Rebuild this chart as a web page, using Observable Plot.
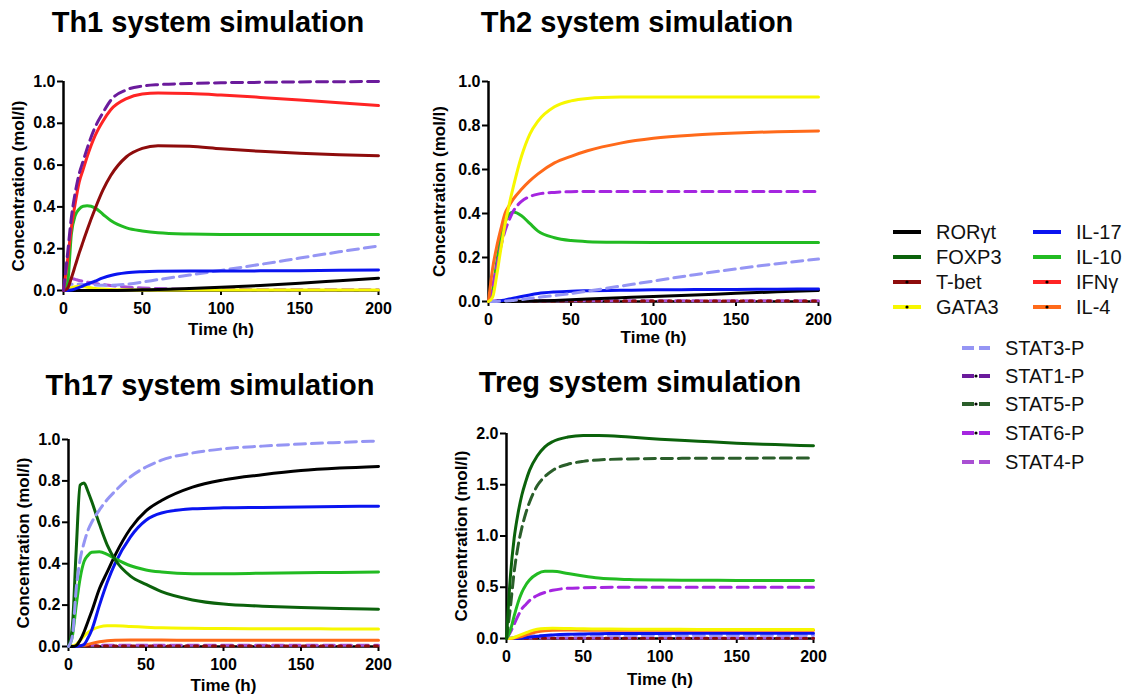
<!DOCTYPE html>
<html><head><meta charset="utf-8">
<script src="https://cdn.jsdelivr.net/npm/d3@7"></script>
<script src="https://cdn.jsdelivr.net/npm/@observablehq/plot@0.6"></script>
<style>
body{margin:0;background:#fff;font-family:"Liberation Sans",Arial,sans-serif}
#root{position:relative;width:1136px;height:696px;overflow:hidden;background:#fff}
.panel{position:absolute}
.title{position:absolute;font-weight:bold;font-size:29px;line-height:29px;text-align:center;white-space:nowrap;color:#000}
.leg{position:absolute;height:20px;display:flex;align-items:center;white-space:nowrap}
.leg span{font-size:20px;line-height:20px;color:#111;margin-left:15px}
</style></head><body><div id="root"></div>
<script>
// ---------------- data ----------------
const times = [0, 2.5, 5, 7.5, 10, 12.5, 15, 20, 25, 30, 40, 50, 60, 80, 100, 125, 150, 175, 200];
const xTicks = [0, 50, 100, 150, 200];
const yTicks1 = [0, 0.2, 0.4, 0.6, 0.8, 1.0];
const yTicksTreg = [0, 0.5, 1.0, 1.5, 2.0];
const titles = ["Th1 system simulation", "Th2 system simulation", "Th17 system simulation", "Treg system simulation"];
const yLabel = "Concentration (mol/l)";
const xLabel = "Time (h)";

// Th1
const th1_STAT1P = [0, 0.17, 0.35, 0.47, 0.56, 0.62, 0.68, 0.78, 0.85, 0.91, 0.96, 0.978, 0.985, 0.99, 0.994, 0.996, 0.998, 0.999, 1.0];
const th1_IFNg   = [0, 0.14, 0.3, 0.42, 0.52, 0.58, 0.64, 0.74, 0.81, 0.865, 0.918, 0.94, 0.945, 0.942, 0.935, 0.924, 0.912, 0.898, 0.885];
const th1_Tbet   = [0, 0.01, 0.06, 0.12, 0.18, 0.235, 0.29, 0.39, 0.48, 0.55, 0.64, 0.68, 0.693, 0.69, 0.678, 0.666, 0.657, 0.65, 0.645];
const th1_IL10   = [0, 0.03, 0.27, 0.36, 0.39, 0.403, 0.405, 0.395, 0.365, 0.335, 0.3, 0.285, 0.276, 0.27, 0.268, 0.268, 0.268, 0.268, 0.268];
const th1_IL17   = [0, 0, 0.002, 0.008, 0.015, 0.022, 0.03, 0.045, 0.06, 0.072, 0.085, 0.09, 0.092, 0.093, 0.093, 0.094, 0.095, 0.097, 0.098];
const th1_RORgt  = [0, 0, 0, 0, 0, 0, 0, 0, 0, 0, 0.001, 0.003, 0.005, 0.009, 0.015, 0.024, 0.035, 0.047, 0.059];
const th1_GATA3  = [0, 0.005, 0.013, 0.018, 0.02, 0.018, 0.016, 0.01, 0.007, 0.005, 0.003, 0.002, 0.002, 0.002, 0.002, 0.002, 0.002, 0.002, 0.002];
const th1_STAT3P = [0, 0.02, 0.03, 0.03, 0.03, 0.029, 0.028, 0.026, 0.025, 0.025, 0.03, 0.04, 0.052, 0.074, 0.096, 0.125, 0.155, 0.185, 0.213];
const th1_STAT4P = [0, 0.06, 0.058, 0.053, 0.048, 0.044, 0.04, 0.034, 0.028, 0.024, 0.017, 0.012, 0.009, 0.006, 0.005, 0.004, 0.004, 0.004, 0.004];

// Th2
const th2_GATA3  = [0, 0.02, 0.12, 0.24, 0.35, 0.44, 0.52, 0.66, 0.76, 0.82, 0.885, 0.912, 0.923, 0.929, 0.93, 0.93, 0.93, 0.93, 0.93];
const th2_IL4    = [0, 0.15, 0.25, 0.33, 0.4, 0.435, 0.465, 0.51, 0.548, 0.58, 0.63, 0.66, 0.685, 0.72, 0.742, 0.757, 0.766, 0.772, 0.775];
const th2_STAT6P = [0, 0.07, 0.16, 0.25, 0.32, 0.37, 0.41, 0.455, 0.477, 0.488, 0.496, 0.499, 0.5, 0.5, 0.5, 0.5, 0.5, 0.5, 0.5];
const th2_IL10   = [0, 0.05, 0.18, 0.29, 0.36, 0.395, 0.407, 0.39, 0.355, 0.32, 0.29, 0.277, 0.272, 0.269, 0.268, 0.268, 0.268, 0.268, 0.268];
const th2_STAT3P = [0, 0, 0, 0.001, 0.002, 0.003, 0.005, 0.009, 0.014, 0.019, 0.027, 0.036, 0.047, 0.07, 0.093, 0.122, 0.148, 0.172, 0.193];
const th2_IL17   = [0, 0, 0.001, 0.003, 0.007, 0.011, 0.015, 0.023, 0.03, 0.036, 0.043, 0.047, 0.049, 0.051, 0.053, 0.054, 0.055, 0.056, 0.057];
const th2_RORgt  = [0, 0, 0, 0, 0, 0, 0, 0.001, 0.002, 0.003, 0.005, 0.008, 0.011, 0.017, 0.023, 0.03, 0.037, 0.044, 0.05];
const th2_STAT4P = [0, 0.002, 0.003, 0.003, 0.003, 0.003, 0.003, 0.003, 0.003, 0.003, 0.003, 0.003, 0.003, 0.003, 0.003, 0.003, 0.003, 0.003, 0.003];
const th2_Tbet   = [0, 0.001, 0.002, 0.002, 0.002, 0.002, 0.002, 0.002, 0.002, 0.002, 0.002, 0.002, 0.002, 0.002, 0.002, 0.002, 0.002, 0.002, 0.002];

// Th17
const th17_STAT3P = [0, 0.05, 0.28, 0.42, 0.5, 0.56, 0.6, 0.66, 0.71, 0.75, 0.82, 0.867, 0.9, 0.935, 0.955, 0.968, 0.978, 0.986, 0.993];
const th17_FOXP3  = [0, 0.1, 0.47, 0.78, 0.79, 0.75, 0.7, 0.59, 0.49, 0.42, 0.34, 0.3, 0.265, 0.225, 0.205, 0.195, 0.188, 0.183, 0.18];
const th17_IL10   = [0, 0.05, 0.2, 0.33, 0.41, 0.44, 0.455, 0.458, 0.445, 0.425, 0.39, 0.37, 0.36, 0.352, 0.352, 0.354, 0.356, 0.358, 0.36];
const th17_RORgt  = [0, 0, 0.005, 0.03, 0.07, 0.12, 0.17, 0.28, 0.36, 0.44, 0.57, 0.655, 0.705, 0.77, 0.805, 0.83, 0.85, 0.862, 0.87];
const th17_IL17   = [0, 0, 0, 0.003, 0.01, 0.04, 0.08, 0.2, 0.31, 0.4, 0.53, 0.61, 0.645, 0.665, 0.67, 0.672, 0.674, 0.676, 0.678];
const th17_GATA3  = [0, 0.002, 0.01, 0.03, 0.05, 0.067, 0.08, 0.095, 0.1, 0.1, 0.097, 0.093, 0.09, 0.088, 0.087, 0.086, 0.086, 0.085, 0.085];
const th17_IL4    = [0, 0, 0.001, 0.003, 0.006, 0.01, 0.015, 0.023, 0.028, 0.03, 0.031, 0.031, 0.031, 0.03, 0.03, 0.03, 0.03, 0.03, 0.03];
const th17_STAT4P = [0, 0.002, 0.004, 0.005, 0.006, 0.006, 0.006, 0.006, 0.006, 0.006, 0.006, 0.006, 0.006, 0.006, 0.006, 0.006, 0.006, 0.006, 0.006];
const th17_Tbet   = [0, 0.001, 0.002, 0.002, 0.002, 0.002, 0.002, 0.002, 0.002, 0.002, 0.002, 0.002, 0.002, 0.002, 0.002, 0.002, 0.002, 0.002, 0.002];

// Treg
const treg_FOXP3  = [0, 0.6, 0.98, 1.22, 1.4, 1.53, 1.64, 1.78, 1.87, 1.92, 1.965, 1.98, 1.98, 1.965, 1.945, 1.925, 1.905, 1.892, 1.88];
const treg_STAT5P = [0, 0.3, 0.65, 0.9, 1.08, 1.22, 1.33, 1.49, 1.58, 1.64, 1.7, 1.728, 1.742, 1.752, 1.756, 1.758, 1.759, 1.76, 1.76];
const treg_IL10   = [0, 0.08, 0.22, 0.35, 0.45, 0.52, 0.57, 0.63, 0.655, 0.655, 0.635, 0.61, 0.59, 0.575, 0.57, 0.568, 0.567, 0.566, 0.565];
const treg_STAT6P = [0, 0.06, 0.14, 0.22, 0.29, 0.33, 0.37, 0.42, 0.45, 0.47, 0.49, 0.495, 0.498, 0.5, 0.5, 0.5, 0.5, 0.5, 0.5];
const treg_GATA3  = [0, 0.002, 0.01, 0.025, 0.04, 0.055, 0.07, 0.09, 0.098, 0.1, 0.098, 0.095, 0.093, 0.091, 0.09, 0.089, 0.088, 0.088, 0.088];
const treg_IL4    = [0, 0, 0.005, 0.012, 0.02, 0.033, 0.045, 0.065, 0.075, 0.08, 0.082, 0.081, 0.08, 0.08, 0.08, 0.08, 0.08, 0.08, 0.08];
const treg_IL17   = [0, 0, 0, 0.001, 0.005, 0.01, 0.014, 0.022, 0.03, 0.035, 0.042, 0.045, 0.047, 0.049, 0.05, 0.051, 0.051, 0.052, 0.052];
const treg_STAT3P = [0, 0.005, 0.01, 0.015, 0.02, 0.022, 0.025, 0.028, 0.03, 0.031, 0.032, 0.032, 0.032, 0.032, 0.032, 0.032, 0.032, 0.032, 0.032];
const treg_STAT4P = [0, 0.003, 0.005, 0.006, 0.006, 0.006, 0.006, 0.006, 0.006, 0.006, 0.006, 0.006, 0.006, 0.006, 0.006, 0.006, 0.006, 0.006, 0.006];
const treg_Tbet   = [0, 0.001, 0.002, 0.002, 0.002, 0.002, 0.002, 0.002, 0.002, 0.002, 0.002, 0.002, 0.002, 0.002, 0.002, 0.002, 0.002, 0.002, 0.002];

// legend
const legendLeft  = ["RORγt", "FOXP3", "T-bet", "GATA3"];
const legendRight = ["IL-17", "IL-10", "IFNγ", "IL-4"];
const legendStat  = ["STAT3-P", "STAT1-P", "STAT5-P", "STAT6-P", "STAT4-P"];

// ---------------- styles ----------------
const styles = {
  "RORγt":   {color: "#000000", dashed: false, dot: false},
  "FOXP3":   {color: "#0b620b", dashed: false, dot: false},
  "T-bet":   {color: "#8e0c0c", dashed: false, dot: true},
  "GATA3":   {color: "#f7f700", dashed: false, dot: true},
  "IL-17":   {color: "#0a14f0", dashed: false, dot: false},
  "IL-10":   {color: "#22bb22", dashed: false, dot: false},
  "IFNγ":    {color: "#ff2424", dashed: false, dot: true},
  "IL-4":    {color: "#ff6a1a", dashed: false, dot: true},
  "STAT3-P": {color: "#9595f4", dashed: true, dot: false},
  "STAT1-P": {color: "#6b1b9c", dashed: true, dot: true},
  "STAT5-P": {color: "#2a5e2a", dashed: true, dot: true},
  "STAT6-P": {color: "#a526e0", dashed: true, dot: true},
  "STAT4-P": {color: "#a94fd3", dashed: true, dot: false}
};

const panels = [
  {title: titles[0], tx: 208, ty: 8, left: 0, top: 60, width: 395, height: 290, mt: 21, mr: 17, mb: 60, ml: 63, ydom: [0, 1], yticks: yTicks1, ydx: -45, xdy: 39,
   series: [["STAT4-P", th1_STAT4P], ["STAT3-P", th1_STAT3P], ["GATA3", th1_GATA3], ["RORγt", th1_RORgt], ["IL-17", th1_IL17], ["IL-10", th1_IL10], ["T-bet", th1_Tbet], ["IFNγ", th1_IFNg], ["STAT1-P", th1_STAT1P]]},
  {title: titles[1], tx: 637, ty: 8, left: 420, top: 60, width: 420, height: 300, mt: 21, mr: 22, mb: 59, ml: 68, ydom: [0, 1], yticks: yTicks1, ydx: -49, xdy: 36,
   series: [["STAT4-P", th2_STAT4P], ["T-bet", th2_Tbet, "dots"], ["RORγt", th2_RORgt], ["IL-17", th2_IL17], ["STAT3-P", th2_STAT3P], ["IL-10", th2_IL10], ["STAT6-P", th2_STAT6P], ["IL-4", th2_IL4], ["GATA3", th2_GATA3]]},
  {title: titles[2], tx: 210, ty: 371, left: 0, top: 400, width: 395, height: 296, mt: 39, mr: 17, mb: 50, ml: 68, ydom: [0, 1], yticks: yTicks1, ydx: -45, xdy: 39,
   series: [["STAT4-P", th17_STAT4P], ["T-bet", th17_Tbet, "dots"], ["IL-4", th17_IL4], ["GATA3", th17_GATA3], ["IL-17", th17_IL17], ["RORγt", th17_RORgt], ["IL-10", th17_IL10], ["FOXP3", th17_FOXP3], ["STAT3-P", th17_STAT3P]]},
  {title: titles[3], tx: 640, ty: 368, left: 420, top: 400, width: 420, height: 296, mt: 33, mr: 27, mb: 58, ml: 86, ydom: [0, 2], yticks: yTicksTreg, ydx: -45, xdy: 41,
   series: [["STAT4-P", treg_STAT4P], ["T-bet", treg_Tbet, "dots"], ["STAT3-P", treg_STAT3P], ["IL-17", treg_IL17], ["IL-4", treg_IL4], ["GATA3", treg_GATA3], ["STAT6-P", treg_STAT6P], ["IL-10", treg_IL10], ["STAT5-P", treg_STAT5P], ["FOXP3", treg_FOXP3]]}
];

const root = document.getElementById("root");
const FONT = "'Liberation Sans', Arial, sans-serif";

for (const p of panels) {
  const t = document.createElement("div");
  t.className = "title";
  t.style.left = (p.tx - 220) + "px";
  t.style.width = "440px";
  t.style.top = p.ty + "px";
  t.textContent = p.title;
  root.appendChild(t);

  const lineMarks = p.series.map(([name, values, mode]) => {
    const st = styles[name];
    const rows = values.map((v, i) => ({t: times[i], v, name}));
    return Plot.line(rows, {
      x: "t", y: "v",
      stroke: st.color,
      strokeWidth: 3,
      strokeDasharray: mode === "dots" ? "3,6" : (st.dashed ? "11,6" : null),
      curve: "monotone-x"
    });
  });

  const plot = Plot.plot({
    width: p.width, height: p.height,
    marginTop: p.mt, marginRight: p.mr, marginBottom: p.mb, marginLeft: p.ml,
    x: {domain: [0, 200]},
    y: {domain: p.ydom},
    style: {fontFamily: FONT, fontSize: "16px", fontWeight: "bold", color: "#000", background: "transparent", overflow: "visible"},
    marks: [
      Plot.axisX({ticks: xTicks, tickSize: 5, tickPadding: 7, strokeWidth: 2, label: null, fontSize: 16, tickFormat: d3.format("d")}),
      Plot.axisY({ticks: p.yticks, tickSize: 6, tickPadding: 2, strokeWidth: 2, label: null, fontSize: 16, tickFormat: d3.format(".1f")}),
      Plot.ruleX([0], {stroke: "#000", strokeWidth: 2.5}),
      Plot.ruleY([0], {stroke: "#000", strokeWidth: 2.5}),
      ...lineMarks,
      Plot.text([yLabel], {text: d => d, frameAnchor: "left", dx: p.ydx, rotate: -90, textAnchor: "middle", lineAnchor: "middle", fontSize: 17, fontWeight: "bold"}),
      Plot.text([xLabel], {text: d => d, frameAnchor: "bottom", dy: p.xdy, textAnchor: "middle", lineAnchor: "middle", fontSize: 17, fontWeight: "bold"})
    ]
  });
  const holder = document.createElement("div");
  holder.className = "panel";
  holder.style.left = p.left + "px";
  holder.style.top = p.top + "px";
  holder.appendChild(plot);
  root.appendChild(holder);
}

// legend
function addLegend(name, x, y) {
  const st = styles[name];
  const d = document.createElement("div");
  d.className = "leg";
  d.style.left = x + "px";
  d.style.top = (y - 10) + "px";
  const ns = "http://www.w3.org/2000/svg";
  const svg = document.createElementNS(ns, "svg");
  svg.setAttribute("width", 28); svg.setAttribute("height", 20);
  const ln = document.createElementNS(ns, "line");
  ln.setAttribute("x1", 0); ln.setAttribute("x2", 28);
  ln.setAttribute("y1", 10); ln.setAttribute("y2", 10);
  ln.setAttribute("stroke", st.color);
  ln.setAttribute("stroke-width", 4);
  if (st.dashed) ln.setAttribute("stroke-dasharray", "12,5");
  svg.appendChild(ln);
  if (st.dot) {
    const c = document.createElementNS(ns, "circle");
    c.setAttribute("cx", 14); c.setAttribute("cy", 10); c.setAttribute("r", 1.6);
    c.setAttribute("fill", "#000");
    svg.appendChild(c);
  }
  d.appendChild(svg);
  const s = document.createElement("span");
  s.textContent = name;
  d.appendChild(s);
  root.appendChild(d);
}
const rowsTop = [232, 257, 282, 307];
legendLeft.forEach((n, i) => addLegend(n, 893, rowsTop[i]));
legendRight.forEach((n, i) => addLegend(n, 1033, rowsTop[i]));
const rowsStat = [348, 376, 404, 433, 462];
legendStat.forEach((n, i) => addLegend(n, 962, rowsStat[i]));
</script></body></html>
